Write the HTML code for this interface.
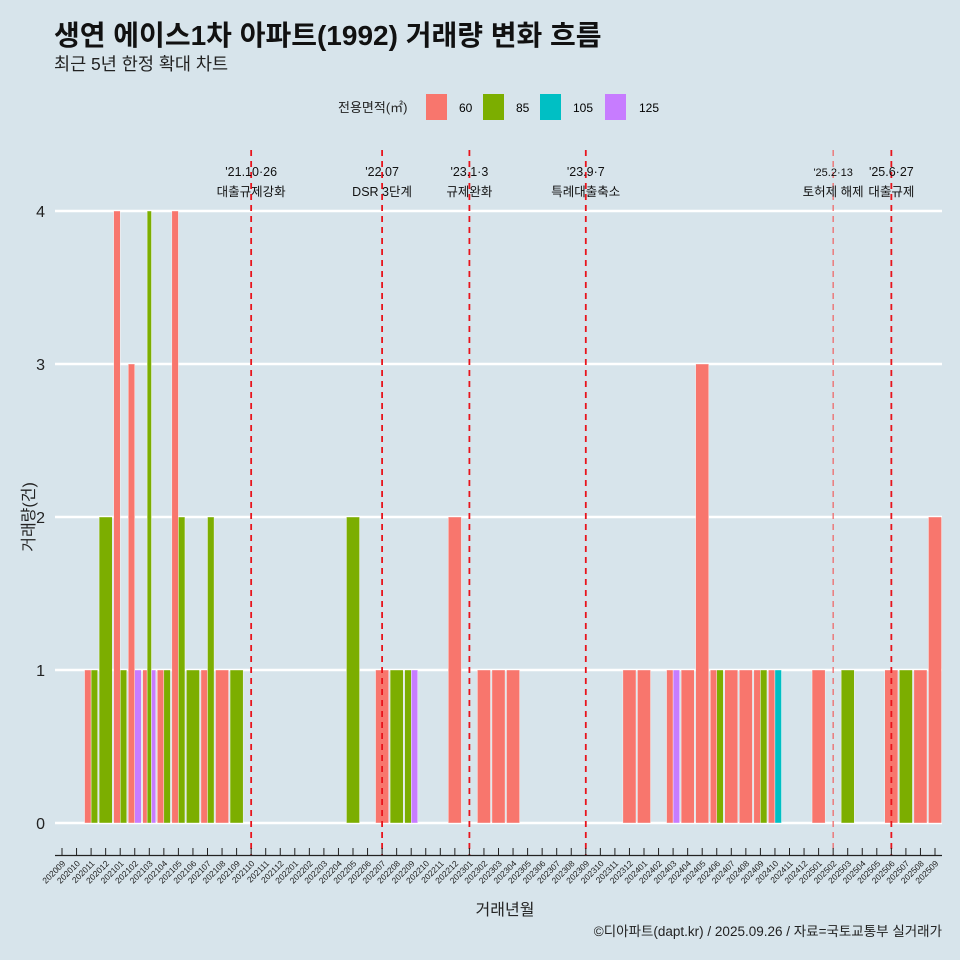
<!DOCTYPE html>
<html><head><meta charset="utf-8"><style>
body{margin:0;background:#d7e4eb;}
svg{display:block;font-family:"Liberation Sans","Noto Sans CJK KR",sans-serif;}
</style></head><body>
<svg id="chart" width="960" height="960" viewBox="0 0 960 960">
<rect width="960" height="960" fill="#d7e4eb"/>
<text x="54" y="45" font-size="28" font-weight="bold" fill="#111">생연 에이스1차 아파트(1992) 거래량 변화 흐름</text>
<text x="54" y="70" font-size="17.5" fill="#222">최근 5년 한정 확대 차트</text>
<g>
<text x="338" y="112" font-size="13" fill="#222">전용면적(㎡)</text>
<rect x="426" y="94" width="21" height="26" fill="#F8766D"/>
<text x="459" y="112" font-size="12">60</text>
<rect x="483" y="94" width="21" height="26" fill="#7CAE00"/>
<text x="516" y="112" font-size="12">85</text>
<rect x="540" y="94" width="21" height="26" fill="#00BFC4"/>
<text x="573" y="112" font-size="12">105</text>
<rect x="605" y="94" width="21" height="26" fill="#C77CFF"/>
<text x="639" y="112" font-size="12">125</text>
</g>
<g id="grid"></g><g id="bars"></g><g id="events"></g><g id="axes"></g>
<text x="505" y="915" font-size="16" text-anchor="middle" fill="#222">거래년월</text>
<text transform="translate(34,517) rotate(-90)" font-size="16" text-anchor="middle" fill="#222">거래량(건)</text>
<text x="942" y="936" font-size="13.5" text-anchor="end" fill="#222">©디아파트(dapt.kr) / 2025.09.26 / 자료=국토교통부 실거래가</text>
</svg>
<script>
const months = [];
for (let y = 2020, m = 9; !(y === 2025 && m === 10); m++) { if (m > 12) { m = 1; y++; } if (y === 2025 && m === 10) break; months.push(y + String(m).padStart(2, '0')); }
const barMonths = ['202011','202011','202012','202101','202101','202102','202102','202103','202103','202103','202104','202104','202105','202105','202106','202107','202107','202108','202109','202205','202207','202208','202209','202209','202212','202302','202303','202304','202312','202401','202403','202403','202404','202405','202406','202406','202407','202408','202409','202409','202410','202410','202501','202503','202506','202507','202508','202509'];
const barAreas = ['60','85','85','60','85','60','125','60','85','125','60','85','60','85','85','60','85','60','85','85','60','85','85','125','60','60','60','60','60','60','60','125','60','60','60','85','60','60','60','85','60','105','60','85','60','85','60','60'];
const barCounts = [1,1,2,4,1,3,1,1,4,1,1,1,4,2,1,1,2,1,1,2,1,1,1,1,2,1,1,1,1,1,1,1,1,3,1,1,1,1,1,1,1,1,1,1,1,1,1,2];
const yTicks = [0,1,2,3,4];
const eventMonths = ['202110','202207','202301','202309','202502','202506'];
const eventDates = ["'21.10·26","'22.07","'23.1·3","'23.9·7","'25.2·13","'25.6·27"];
const eventLabels = ['대출규제강화','DSR 3단계','규제완화','특례대출축소','토허제 해제','대출규제'];
const colors = {'60':'#F8766D','85':'#7CAE00','105':'#00BFC4','125':'#C77CFF'};
const NS = 'http://www.w3.org/2000/svg';
const x0 = 62, step = (935 - 62) / 60;
const xScale = m => x0 + months.indexOf(m) * step;
const yScale = v => 823 - v * 153;
function mk(tag, attrs, parent, text) { const e = document.createElementNS(NS, tag); for (const k in attrs) e.setAttribute(k, attrs[k]); if (text !== undefined) e.textContent = text; document.getElementById(parent).appendChild(e); return e; }
yTicks.forEach(t => {
  const l = mk('line', {x1: 55, x2: 942, y1: yScale(t), y2: yScale(t), stroke: '#fff', 'stroke-width': 2.5}, 'grid');
  
  
  const tx = mk('text', {x: 45, y: yScale(t) + 6, 'font-size': 16, 'text-anchor': 'end', fill: '#222'}, 'axes', String(t));
  
  
});
const bw = step * 0.9;
const groups = {};
barMonths.forEach((m, i) => { (groups[m] = groups[m] || []).push(i); });
Object.keys(groups).forEach(m => {
  const idx = groups[m], n = idx.length, w = bw / n, left = xScale(m) - bw / 2;
  idx.forEach((i, k) => {
    const r = mk('rect', {x: left + k * w, y: yScale(barCounts[i]), width: w, height: yScale(0) - yScale(barCounts[i]), fill: colors[barAreas[i]], stroke: '#fff', 'stroke-width': 0.4}, 'bars');
    
    
  });
});
eventMonths.forEach((m, i) => {
  const x = xScale(m), light = m === '202502';
  const l = mk('line', {x1: x, x2: x, y1: 150, y2: 855, stroke: light ? '#f06060' : '#e8141c', 'stroke-width': light ? 1.2 : 1.8, 'stroke-dasharray': '6,5'}, 'events');
  
  
  const t1 = mk('text', {x: x, y: 176, 'font-size': light ? 11 : 12.5, 'text-anchor': 'middle', fill: '#111'}, 'events', eventDates[i]);
  
  
  const t2 = mk('text', {x: x, y: 196, 'font-size': 12.5, 'text-anchor': 'middle', fill: '#111'}, 'events', eventLabels[i]);
  
  
});
const ax = mk('line', {x1: 55, x2: 942, y1: 855.5, y2: 855.5, stroke: '#222', 'stroke-width': 1.2}, 'axes');


months.forEach(m => {
  const x = xScale(m);
  const tk = mk('line', {x1: x, x2: x, y1: 848, y2: 856, stroke: '#222', 'stroke-width': 1}, 'axes');
  
  
  const tl = mk('text', {transform: 'translate(' + (x + 4) + ',864) rotate(-45)', 'font-size': 8.5, 'text-anchor': 'end', fill: '#222'}, 'axes', m);
  
  
});
</script>
</body></html>
